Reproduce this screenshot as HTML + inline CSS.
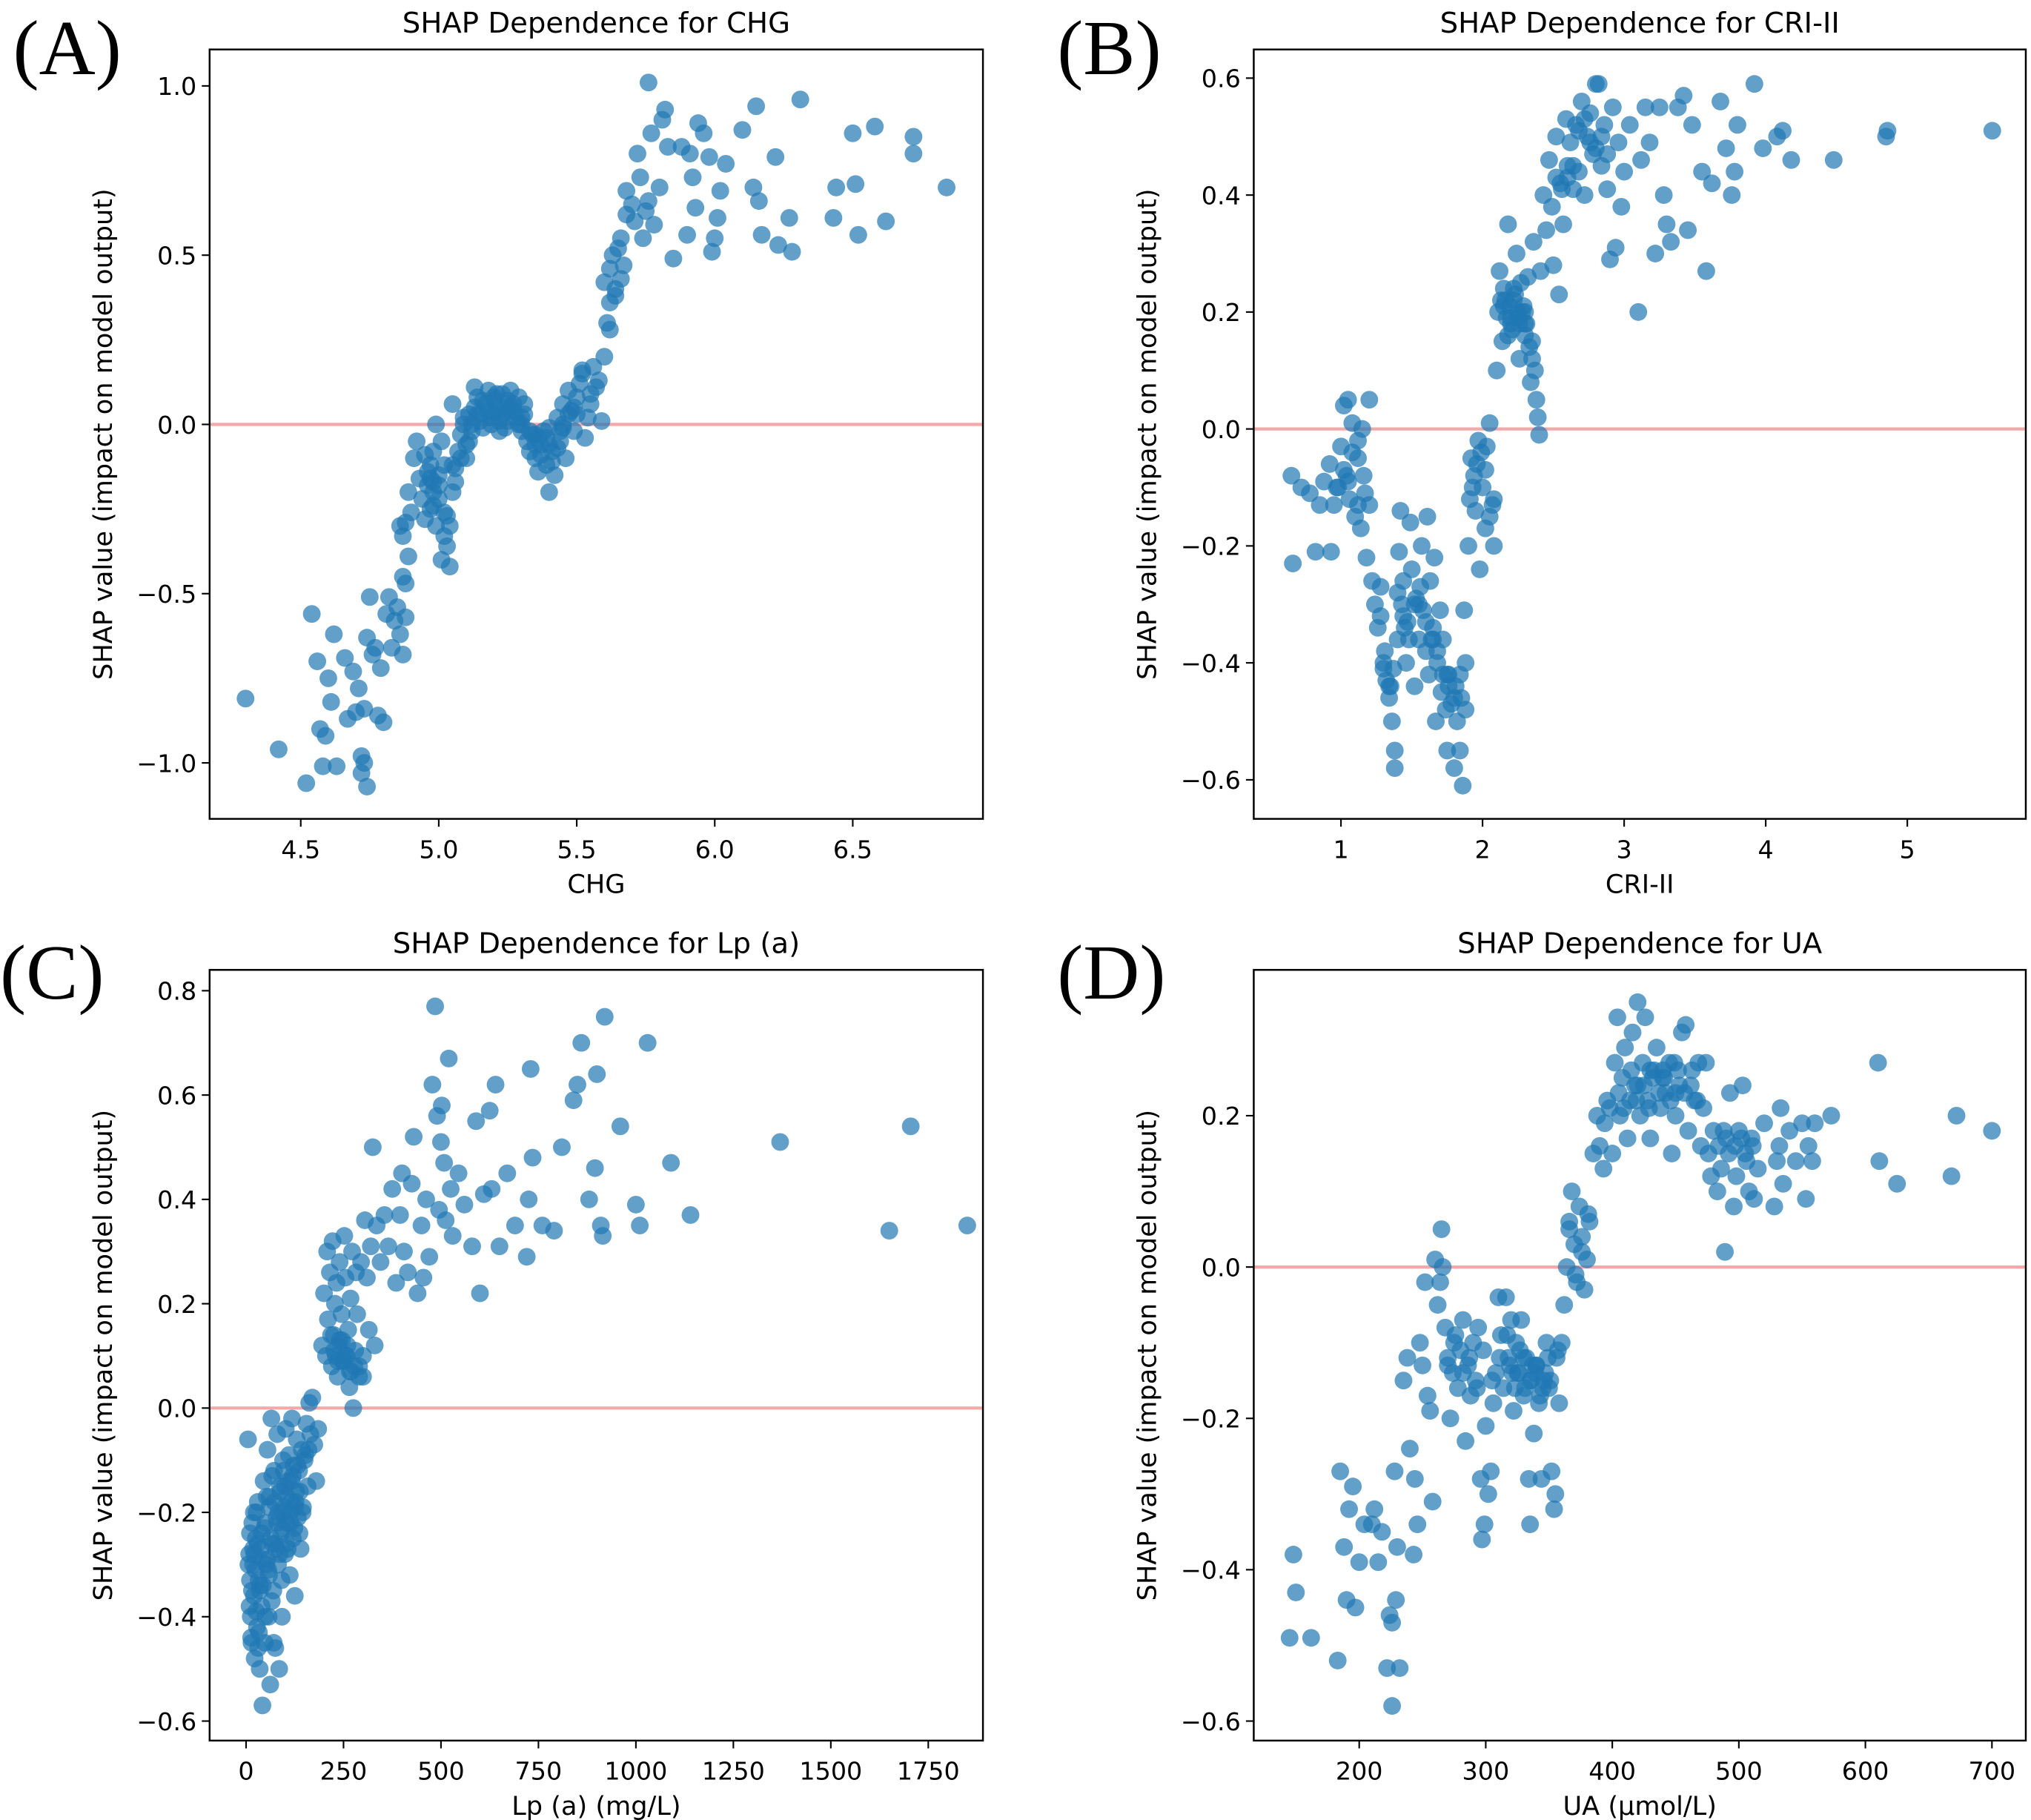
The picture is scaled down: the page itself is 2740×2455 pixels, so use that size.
<!DOCTYPE html>
<html><head><meta charset="utf-8"><style>
html,body{margin:0;padding:0;background:#fff;}
svg{display:block;}
text{font-family:"DejaVu Sans","Liberation Sans",sans-serif;fill:#000;}
.lbl{font-family:"Liberation Serif",serif;}
</style></head><body>
<svg id="fig" width="2740" height="2455" viewBox="0 0 1560 1398" preserveAspectRatio="none" xmlns="http://www.w3.org/2000/svg"></svg>
<script>
// ---------- Panel A: CHG ----------
const aX=[4.30,4.42,4.52,4.54,4.56,4.57,4.58,4.59,4.60,4.61,4.62,4.63,4.66,4.67,4.69,4.70,4.71,4.72,4.72,4.73,4.74,4.73,4.74,4.75,4.76,4.77,4.78,4.79,4.80,4.81,4.82,4.83,4.84,4.85,4.86,4.87,4.88,4.87,4.88,4.89,4.87,4.88,4.90,4.86,4.89,4.91,4.92,4.93,4.94,4.95,4.96,4.97,4.98,4.99,4.98,4.97,4.99,5.00,5.00,5.01,5.02,5.03,5.04,5.01,5.03,5.05,5.06,5.07,5.08,5.09,5.05,5.10,5.11,5.12,5.13,5.13,5.14,5.15,5.16,5.17,5.18,5.19,5.20,5.21,5.22,5.23,5.24,5.25,5.26,5.27,5.28,5.29,5.30,5.31,5.32,5.33,5.34,5.35,5.36,5.37,5.38,5.39,5.40,5.41,5.42,5.43,5.44,5.45,5.46,5.47,5.48,5.49,5.50,5.51,5.52,5.53,5.54,5.55,5.56,5.58,5.59,5.60,5.61,5.62,5.60,5.62,5.63,5.64,5.65,5.66,5.67,5.68,5.68,5.70,5.71,5.72,5.73,5.74,5.75,5.76,5.77,5.76,5.78,5.80,5.81,5.82,5.83,5.85,5.88,5.90,5.91,5.92,5.93,5.94,5.96,5.98,5.99,6.00,6.01,6.02,6.04,6.10,6.14,6.15,6.16,6.17,6.22,6.23,6.27,6.28,6.31,6.43,6.44,6.50,6.51,6.52,6.58,6.62,6.72,6.72,6.84,5.18,5.22,5.26,5.30,5.24,5.20,4.98,5.02,5.36,5.40,5.44,
 5.14,5.16,5.19,5.21,5.23,5.25,5.27,5.29,5.31,5.33,5.35,5.37,5.39,5.41,5.43,5.45,5.47,5.49,5.15,5.20,5.25,5.30,5.35,5.40,5.45,5.50,4.96,4.98,5.00,5.02,5.04,5.06,5.08,5.10,5.12,4.95,4.97,5.05,5.09,5.11,5.55,5.57,5.52,5.62,5.64,5.66];
const aY=[-0.81,-0.96,-1.06,-0.56,-0.70,-0.90,-1.01,-0.92,-0.75,-0.82,-0.62,-1.01,-0.69,-0.87,-0.73,-0.85,-0.78,-0.98,-1.03,-1.00,-1.07,-0.84,-0.63,-0.51,-0.68,-0.66,-0.86,-0.72,-0.88,-0.56,-0.51,-0.66,-0.58,-0.54,-0.62,-0.68,-0.57,-0.45,-0.47,-0.39,-0.33,-0.29,-0.26,-0.30,-0.20,-0.10,-0.05,-0.16,-0.22,-0.28,-0.18,-0.12,-0.08,0.0,-0.20,-0.25,-0.30,-0.22,-0.15,-0.05,-0.33,-0.36,-0.42,-0.40,-0.27,-0.20,-0.13,-0.08,-0.03,0.02,0.06,-0.10,-0.05,0.0,0.05,0.11,0.08,0.03,-0.01,0.06,0.10,0.02,0.07,0.04,-0.02,0.09,0.05,0.01,0.10,0.06,0.02,0.08,-0.02,0.03,-0.05,-0.08,-0.03,-0.10,-0.14,-0.06,-0.02,-0.12,-0.20,-0.08,-0.15,0.02,-0.05,0.06,-0.10,0.10,0.04,-0.02,0.08,0.12,0.16,-0.04,0.02,0.09,0.17,0.13,0.01,0.20,0.30,0.36,0.42,0.46,0.50,0.40,0.52,0.55,0.47,0.62,0.69,0.65,0.60,0.80,0.73,0.55,0.63,0.66,0.86,1.01,0.59,0.70,0.90,0.93,0.82,0.49,0.82,0.56,0.80,0.73,0.64,0.89,0.86,0.79,0.51,0.55,0.61,0.69,0.77,0.87,0.70,0.94,0.66,0.56,0.79,0.53,0.61,0.51,0.96,0.61,0.70,0.86,0.71,0.56,0.88,0.60,0.85,0.80,0.70,0.04,0.01,0.05,0.00,-0.01,0.03,-0.17,-0.12,-0.04,-0.06,-0.02,
 0.03,0.07,0.00,0.09,0.03,0.07,0.04,0.00,0.06,-0.02,-0.06,-0.09,-0.04,-0.11,-0.07,-0.01,0.03,0.05,0.01,0.08,0.04,0.02,-0.03,-0.01,0.00,0.03,-0.14,-0.24,-0.18,-0.26,-0.30,-0.17,-0.10,-0.06,-0.02,-0.09,-0.16,-0.12,0.00,0.03,0.06,0.11,0.15,0.28,0.38,0.43];
const aXTicks=[4.5,5.0,5.5,6.0,6.5];
const aYTicks=[1.0,0.5,0.0,-0.5,-1.0];

// ---------- Panel B: CRI-II ----------
const bX=[0.65,0.66,0.72,0.78,0.82,0.85,0.88,0.92,0.93,0.95,0.97,1.00,1.02,1.04,1.05,1.06,1.08,1.10,1.12,1.14,1.15,1.17,1.18,1.20,1.22,1.24,1.26,1.28,1.30,1.32,1.34,1.36,1.38,1.38,1.40,1.41,1.42,1.43,1.44,1.46,1.47,1.49,1.50,1.52,1.53,1.55,1.57,1.58,1.60,1.61,1.62,1.63,1.65,1.66,1.67,1.68,1.70,1.71,1.72,1.74,1.75,1.76,1.78,1.80,1.81,1.82,1.84,1.85,1.86,1.87,1.88,1.90,1.91,1.92,1.94,1.95,1.97,1.98,2.00,2.02,2.03,2.05,2.07,2.08,2.10,2.11,2.12,2.14,2.16,2.18,2.20,2.22,2.24,2.26,2.28,2.30,2.32,2.34,2.36,2.38,2.39,2.40,2.41,2.43,2.45,2.47,2.49,2.50,2.52,2.54,2.55,2.57,2.59,2.60,2.62,2.64,2.66,2.68,2.70,2.72,2.74,2.76,2.78,2.80,2.82,2.84,2.86,2.88,2.90,2.92,2.94,2.96,2.98,3.00,3.04,3.10,3.12,3.15,3.18,3.22,3.25,3.28,3.30,3.33,3.38,3.42,3.45,3.48,3.55,3.58,3.62,3.68,3.72,3.76,3.78,3.80,3.92,3.98,4.08,4.12,4.18,4.48,4.85,4.86,5.60,1.30,1.35,1.45,1.55,1.65,1.75,2.15,2.20,2.25,2.30,2.35,1.05,1.12,
 2.13,2.15,2.17,2.19,2.21,2.23,2.25,2.27,2.29,2.31,2.33,2.35,2.37,2.18,2.22,2.26,2.30,1.28,1.31,1.34,1.37,1.40,1.44,1.48,1.52,1.56,1.60,1.64,1.68,1.72,1.76,1.80,1.84,1.88,1.93,1.96,1.99,2.02,2.05,2.08,1.08,1.12,1.16,1.20,0.98,1.02,2.68,2.72,2.76,2.80,2.84,2.88,2.60,2.64,2.56,2.52];
const bY=[-0.08,-0.23,-0.10,-0.11,-0.21,-0.13,-0.09,-0.06,-0.21,-0.13,-0.10,-0.03,0.04,-0.08,0.05,-0.12,0.01,-0.15,-0.05,-0.17,0.00,-0.11,-0.22,0.05,-0.26,-0.30,-0.34,-0.27,-0.40,-0.43,-0.46,-0.50,-0.55,-0.58,-0.36,-0.21,-0.14,-0.30,-0.26,-0.40,-0.33,-0.16,-0.24,-0.44,-0.29,-0.36,-0.20,-0.31,-0.38,-0.15,-0.42,-0.26,-0.34,-0.22,-0.50,-0.40,-0.31,-0.45,-0.36,-0.48,-0.55,-0.42,-0.47,-0.58,-0.44,-0.50,-0.55,-0.46,-0.61,-0.31,-0.40,-0.20,-0.12,-0.05,-0.08,-0.14,-0.02,-0.24,-0.10,-0.17,-0.03,0.01,-0.13,-0.20,0.10,0.20,0.27,0.15,0.22,0.35,0.18,0.24,0.30,0.12,0.20,0.16,0.26,0.08,0.32,0.05,0.02,-0.01,0.27,0.40,0.34,0.46,0.38,0.28,0.50,0.23,0.42,0.35,0.53,0.45,0.49,0.41,0.52,0.44,0.56,0.40,0.50,0.54,0.47,0.59,0.59,0.45,0.52,0.41,0.29,0.55,0.31,0.49,0.38,0.44,0.52,0.20,0.46,0.55,0.49,0.30,0.55,0.40,0.35,0.32,0.55,0.57,0.34,0.52,0.44,0.27,0.42,0.56,0.48,0.40,0.44,0.52,0.59,0.48,0.50,0.51,0.46,0.46,0.50,0.51,0.51,-0.41,-0.44,-0.34,-0.30,-0.36,-0.42,0.21,0.19,0.20,0.18,0.15,-0.09,-0.13,
 0.22,0.24,0.19,0.21,0.17,0.23,0.19,0.25,0.21,0.18,0.14,0.12,0.10,0.16,0.22,0.18,0.20,-0.32,-0.38,-0.44,-0.41,-0.28,-0.32,-0.36,-0.30,-0.27,-0.33,-0.36,-0.38,-0.42,-0.44,-0.46,-0.42,-0.48,-0.10,-0.06,-0.04,-0.07,-0.15,-0.12,-0.04,-0.02,-0.08,-0.13,-0.10,-0.07,0.51,0.53,0.49,0.48,0.50,0.47,0.43,0.45,0.41,0.43];
const bXTicks=[1,2,3,4,5];
const bYTicks=[0.6,0.4,0.2,0.0,-0.2,-0.4,-0.6];

// ---------- Panel C: Lp (a) ----------
const cX=[5,8,10,12,14,16,18,20,22,25,28,30,32,35,38,40,42,45,48,50,52,55,58,60,62,65,68,70,72,75,78,80,82,85,88,90,92,95,98,100,102,105,108,110,112,115,118,120,122,125,128,130,133,136,140,143,146,150,155,158,162,165,170,175,180,185,195,200,205,208,210,215,220,222,225,228,232,235,238,240,245,248,252,255,258,262,265,268,272,275,278,282,285,290,295,300,305,310,315,320,325,330,335,345,355,365,375,385,395,400,405,415,425,430,440,450,455,462,470,478,485,490,495,500,502,508,512,520,525,530,545,560,580,590,600,610,625,630,640,650,670,690,720,725,730,735,760,790,810,840,850,860,880,895,900,910,915,920,960,1000,1010,1030,1090,1140,1370,1650,1705,1850,20,40,60,80,100,120,35,55,75,95,
 6,10,15,18,24,27,30,33,36,44,47,53,57,64,67,73,77,83,87,93,97,104,107,113,117,124,127,132,138,145,152,160,9,13,21,26,31,43,49,59,66,71,86,91,103,114,126,137,230,240,250,260,270,280,290,300,218,226,236,246,256,266];
const cY=[-0.06,-0.28,-0.33,-0.40,-0.45,-0.22,-0.30,-0.36,-0.48,-0.25,-0.42,-0.18,-0.33,-0.50,-0.27,-0.38,-0.57,-0.14,-0.45,-0.22,-0.30,-0.08,-0.40,-0.19,-0.53,-0.02,-0.26,-0.35,-0.12,-0.46,-0.21,-0.05,-0.30,-0.50,-0.16,-0.24,-0.40,-0.10,-0.19,-0.28,-0.04,-0.22,-0.14,-0.09,-0.32,-0.18,-0.02,-0.25,-0.11,-0.36,-0.16,-0.06,-0.21,-0.12,-0.27,-0.08,-0.19,-0.10,-0.03,-0.15,0.01,-0.05,0.02,-0.07,-0.14,-0.04,0.12,0.22,0.10,0.30,0.17,0.26,0.08,0.32,0.14,0.20,0.24,0.06,0.12,0.28,0.18,0.09,0.33,0.25,0.10,0.15,0.04,0.21,0.30,0.00,0.08,0.26,0.18,0.06,0.28,0.10,0.36,0.25,0.15,0.31,0.50,0.12,0.35,0.28,0.37,0.31,0.42,0.24,0.37,0.45,0.30,0.26,0.43,0.52,0.22,0.35,0.25,0.40,0.29,0.62,0.77,0.56,0.38,0.51,0.58,0.47,0.36,0.67,0.42,0.33,0.45,0.39,0.31,0.55,0.22,0.41,0.57,0.42,0.62,0.31,0.45,0.35,0.29,0.40,0.65,0.48,0.35,0.34,0.50,0.59,0.62,0.70,0.40,0.46,0.64,0.35,0.33,0.75,0.54,0.39,0.35,0.70,0.47,0.37,0.51,0.34,0.54,0.35,-0.20,-0.24,-0.17,-0.22,-0.15,-0.13,-0.35,-0.29,-0.26,-0.20,
 -0.30,-0.24,-0.35,-0.27,-0.31,-0.20,-0.26,-0.43,-0.34,-0.29,-0.23,-0.17,-0.31,-0.25,-0.13,-0.18,-0.27,-0.20,-0.15,-0.23,-0.12,-0.17,-0.27,-0.20,-0.14,-0.23,-0.18,-0.11,-0.16,-0.20,-0.09,-0.08,-0.38,-0.44,-0.28,-0.39,-0.46,-0.34,-0.40,-0.32,-0.37,-0.45,-0.28,-0.33,-0.26,-0.22,-0.19,-0.24,0.10,0.13,0.09,0.12,0.07,0.11,0.08,0.06,0.14,0.11,0.09,0.13,0.10,0.07];
const cXTicks=[0,250,500,750,1000,1250,1500,1750];
const cYTicks=[0.8,0.6,0.4,0.2,0.0,-0.2,-0.4,-0.6];

// ---------- Panel D: UA ----------
const dX=[145,148,150,162,183,185,188,190,192,195,197,200,204,210,212,215,218,222,224,226,226,228,229,230,232,235,238,240,243,244,246,248,250,252,254,256,258,260,262,264,265,266,268,270,272,274,276,278,280,282,284,286,288,290,292,294,296,297,299,300,302,304,306,308,310,312,314,316,318,320,322,324,326,328,330,332,334,335,336,338,340,342,344,346,348,350,352,354,355,356,358,360,362,364,366,368,370,372,374,376,378,380,382,385,388,390,393,396,400,402,404,406,408,410,412,414,416,418,420,422,424,426,428,430,432,435,438,440,442,445,447,450,452,455,458,460,462,465,468,470,472,474,476,478,480,483,486,489,490,493,496,498,500,503,505,508,510,512,515,520,528,530,532,533,535,540,545,550,553,555,558,560,573,610,611,625,668,672,700,325,335,345,330,340,420,430,440,450,
 270,275,282,287,293,298,305,311,317,321,327,331,337,343,347,351,357,319,323,339,349,405,409,415,419,425,429,433,437,441,446,449,453,457,463,467,394,398,484,488,492,497,502,506,511,366,371,376,381];
const dY=[-0.49,-0.38,-0.43,-0.49,-0.52,-0.27,-0.37,-0.44,-0.32,-0.29,-0.45,-0.39,-0.34,-0.34,-0.32,-0.39,-0.35,-0.53,-0.46,-0.58,-0.47,-0.27,-0.44,-0.37,-0.53,-0.15,-0.12,-0.24,-0.38,-0.28,-0.34,-0.10,-0.13,-0.02,-0.17,-0.19,-0.31,0.01,-0.05,-0.02,0.05,0.00,-0.08,-0.12,-0.20,-0.14,-0.09,-0.16,-0.11,-0.07,-0.23,-0.13,-0.17,-0.10,-0.15,-0.08,-0.28,-0.36,-0.34,-0.21,-0.30,-0.27,-0.18,-0.14,-0.04,-0.09,-0.16,-0.04,-0.12,-0.07,-0.19,-0.10,-0.14,-0.07,-0.17,-0.12,-0.28,-0.34,-0.15,-0.22,-0.13,-0.18,-0.28,-0.15,-0.10,-0.16,-0.27,-0.32,-0.30,-0.12,-0.18,-0.10,-0.05,0.00,0.06,0.10,0.03,-0.02,0.08,0.04,-0.03,0.01,0.06,0.15,0.20,0.16,0.13,0.22,0.15,0.27,0.33,0.20,0.25,0.29,0.17,0.22,0.31,0.24,0.35,0.20,0.27,0.33,0.22,0.17,0.25,0.29,0.21,0.26,0.23,0.27,0.15,0.20,0.26,0.31,0.32,0.18,0.24,0.22,0.27,0.16,0.21,0.27,0.15,0.12,0.18,0.10,0.13,0.02,0.17,0.23,0.08,0.12,0.18,0.24,0.15,0.10,0.17,0.09,0.13,0.19,0.08,0.14,0.16,0.21,0.11,0.18,0.14,0.19,0.09,0.16,0.14,0.19,0.20,0.27,0.14,0.11,0.12,0.20,0.18,-0.14,-0.15,-0.16,-0.12,-0.13,0.24,0.26,0.25,0.23,
 -0.13,-0.10,-0.14,-0.12,-0.16,-0.11,-0.15,-0.12,-0.09,-0.14,-0.11,-0.16,-0.13,-0.17,-0.14,-0.15,-0.11,-0.13,-0.16,-0.14,-0.12,0.23,0.21,0.26,0.22,0.24,0.21,0.26,0.23,0.25,0.22,0.27,0.24,0.23,0.26,0.22,0.19,0.21,0.16,0.18,0.15,0.16,0.17,0.14,0.16,0.05,-0.01,0.02,0.07];
const dXTicks=[200,300,400,500,600,700];
const dYTicks=[0.2,0.0,-0.2,-0.4,-0.6];

const NS='http://www.w3.org/2000/svg';
const svg=document.getElementById('fig');
function mk(tag,attrs,parent,text){const e=document.createElementNS(NS,tag);for(const k in attrs)e.setAttribute(k,attrs[k]);if(text!==undefined)e.textContent=text;(parent||svg).appendChild(e);return e;}
function fmt(v,dec){return (v<0?'\u2212':'')+Math.abs(v).toFixed(dec);}

function panel(cfg){
  const g=mk('g',{});
  
  
  const L=cfg.left,R=cfg.right,T=cfg.top,B=cfg.bottom;
  const sx=v=>cfg.x0px+(v-cfg.x0)*(cfg.x1px-cfg.x0px)/(cfg.x1-cfg.x0);
  const sy=v=>cfg.y0px+(v-cfg.y0)*(cfg.y1px-cfg.y0px)/(cfg.y1-cfg.y0);
  const lt=mk('text',{x:cfg.lblX,y:cfg.lblY,'font-size':60,class:'lbl'},g,cfg.letter);
  
  
  const ti=mk('text',{x:(L+R)/2,y:T-13,'font-size':22,'text-anchor':'middle'},g,cfg.title);
  
  
  const zl=mk('line',{x1:L,x2:R,y1:sy(0),y2:sy(0),stroke:'#f4a9a8','stroke-width':2.4},g);
  
  
  const pg=mk('g',{fill:'#1f77b4','fill-opacity':0.7},g);
  
  
  for(let i=0;i<cfg.xs.length;i++){
    const c=mk('circle',{cx:sx(cfg.xs[i]),cy:sy(cfg.ys[i]),r:6.8},pg);
    
    
  }
  const fr=mk('rect',{x:L,y:T,width:R-L,height:B-T,fill:'none',stroke:'#000','stroke-width':1.4},g);
  
  
  cfg.xt.forEach(v=>{
    const x=sx(v);
    mk('line',{x1:x,x2:x,y1:B,y2:B+6,stroke:'#000','stroke-width':1.2},g);
    const t=mk('text',{x:x,y:B+30,'font-size':19,'text-anchor':'middle'},g,cfg.xdec>=0?fmt(v,cfg.xdec):String(v));
    
    
  });
  cfg.yt.forEach(v=>{
    const y=sy(v);
    mk('line',{x1:L-6,x2:L,y1:y,y2:y,stroke:'#000','stroke-width':1.2},g);
    const t=mk('text',{x:L-10,y:y+7,'font-size':19,'text-anchor':'end'},g,fmt(v,1));
    
    
  });
  const xt=mk('text',{x:(L+R)/2,y:B+57,'font-size':20,'text-anchor':'middle'},g,cfg.xlabel);
  
  
  const yx=L-75,yy=(T+B)/2;
  const yt=mk('text',{x:yx,y:yy,'font-size':20,'text-anchor':'middle',transform:`rotate(-90 ${yx} ${yy})`},g,'SHAP value (impact on model output)');
  
  
}

panel({key:'chg',letter:'(A)',lblX:10,lblY:57,title:'SHAP Dependence for CHG',xlabel:'CHG',
  left:161,right:755,top:38,bottom:629,xs:aX,ys:aY,xt:aXTicks,yt:aYTicks,xdec:1,
  x0:4.5,x0px:231,x1:6.5,x1px:655,y0:1.0,y0px:66,y1:-1.0,y1px:586});
panel({key:'cri-ii',letter:'(B)',lblX:812,lblY:57,title:'SHAP Dependence for CRI-II',xlabel:'CRI-II',
  left:963,right:1556,top:38,bottom:629,xs:bX,ys:bY,xt:bXTicks,yt:bYTicks,xdec:-1,
  x0:1,x0px:1030,x1:5,x1px:1465,y0:0.6,y0px:60,y1:-0.6,y1px:599});
panel({key:'lpa',letter:'(C)',lblX:0,lblY:767,title:'SHAP Dependence for Lp (a)',xlabel:'Lp (a) (mg/L)',
  left:161,right:755,top:745,bottom:1337,xs:cX,ys:cY,xt:cXTicks,yt:cYTicks,xdec:-1,
  x0:0,x0px:189,x1:1750,x1px:713,y0:0.8,y0px:761,y1:-0.6,y1px:1322});
panel({key:'ua',letter:'(D)',lblX:812,lblY:767,title:'SHAP Dependence for UA',xlabel:'UA (\u03bcmol/L)',
  left:963,right:1556,top:745,bottom:1337,xs:dX,ys:dY,xt:dXTicks,yt:dYTicks,xdec:-1,
  x0:200,x0px:1044,x1:700,x1px:1530,y0:0.2,y0px:857,y1:-0.6,y1px:1322});
</script>
</body></html>
